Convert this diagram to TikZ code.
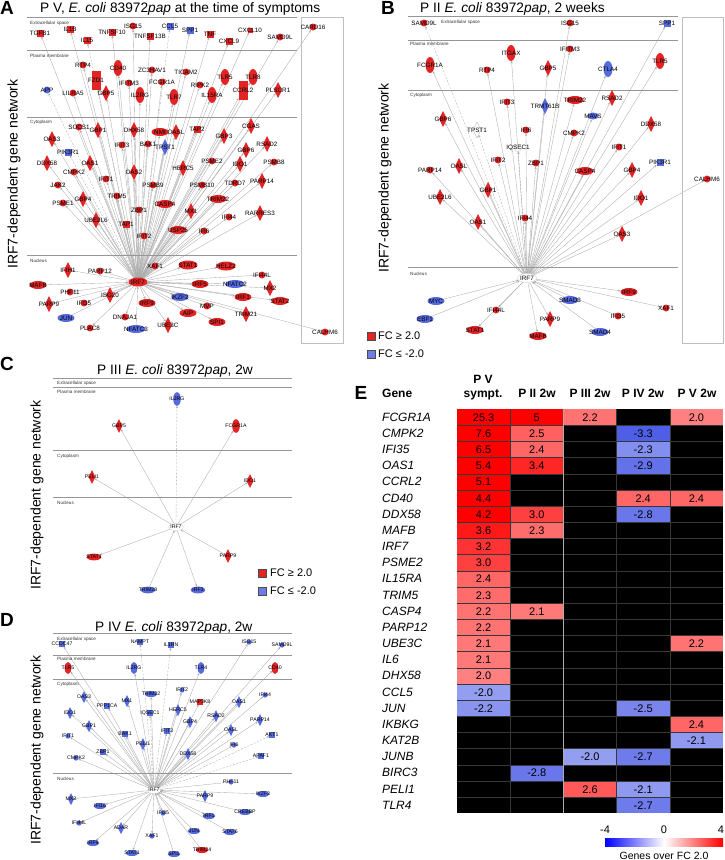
\documentclass[tikz,border=0pt]{standalone}
\usepackage{fontspec}
\setmainfont{Liberation Sans}
\usetikzlibrary{shapes.geometric,arrows.meta,backgrounds}
\definecolor{nred}{RGB}{226,36,36}
\definecolor{nblue}{RGB}{86,106,222}
\definecolor{lblue}{RGB}{110,125,230}
\definecolor{cline}{RGB}{150,150,150}
\definecolor{bxline}{RGB}{190,190,190}
\definecolor{eline}{RGB}{172,172,172}
\definecolor{hred}{RGB}{255,0,0}
\definecolor{hblue}{RGB}{40,60,225}
\definecolor{gridc}{RGB}{55,55,55}
\newcommand\ns{1}
\newcommand\GN[5]{\node[#2] (#1) at (#3,#4) {};\node[glab] (#1t) at (#1.center) {#5};}
\newcommand\GE[6][edg]{\GN{#2}{#3}{#4}{#5}{#6}\begin{scope}[on background layer]\draw[#1] (\hub) -- (#2);\end{scope}}
\def\hnone{x}
\newcommand\hcell[3]{%
  \pgfmathsetmacro\hx{457+#1*53.2}%
  \pgfmathsetmacro\hy{409+#2*16.17}%
  \edef\hv{#3}%
  \ifx\hv\hnone
    \fill[black] (\hx,\hy) rectangle ++(53.2,16.17);
  \else
    \pgfmathsetmacro\pc{min(100,abs(#3)*25)}%
    \ifdim #3pt<0pt \def\hc{hblue}\else\def\hc{hred}\fi
    \fill[\hc!\pc!white] (\hx,\hy) rectangle ++(53.2,16.17);
    \node[hnum] (v#1r#2) at (\hx+26.6,\hy+8.4) {#3};
  \fi}
\tikzset{
 base/.style={inner sep=0pt,outer sep=0pt},
 rcir/.style={base,circle,fill=nred,minimum size=\ns*7pt},
 bcir/.style={base,circle,fill=nblue,minimum size=\ns*7pt},
 wcir/.style={base,circle,fill=white,draw=gray!60,line width=0.3pt,minimum size=\ns*7pt},
 rsq/.style={base,rectangle,fill=nred,minimum size=\ns*7pt},
 bsq/.style={base,rectangle,fill=nblue,minimum size=\ns*7pt},
 rtal/.style={base,rectangle,fill=nred,minimum width=\ns*9pt,minimum height=\ns*19pt},
 rdia/.style={base,diamond,fill=nred,minimum width=\ns*8pt,minimum height=\ns*16pt},
 bdia/.style={base,diamond,fill=nblue,minimum width=\ns*8pt,minimum height=\ns*16pt},
 wdia/.style={base,diamond,fill=white,draw=gray!60,line width=0.3pt,minimum width=\ns*8pt,minimum height=\ns*16pt},
 rvel/.style={base,ellipse,fill=nred,minimum width=\ns*9pt,minimum height=\ns*16pt},
 bvel/.style={base,ellipse,fill=nblue,minimum width=\ns*9pt,minimum height=\ns*16pt},
 rhel/.style={base,ellipse,fill=nred,minimum width=\ns*17pt,minimum height=\ns*8pt},
 bhel/.style={base,ellipse,fill=nblue,minimum width=\ns*17pt,minimum height=\ns*8pt},
 whel/.style={base,ellipse,fill=white,draw=gray!40,line width=0.3pt,minimum width=\ns*17pt,minimum height=\ns*8pt},
 glab/.style={inner sep=0pt,font=\fontsize{6.3}{7}\selectfont},
 edg/.style={draw=eline,line width=0.35pt,-{Stealth[length=2.6pt,width=2.2pt]}},
 edgd/.style={edg,dash pattern=on 2pt off 1.5pt},
 edgr/.style={draw=eline,line width=0.35pt,{Stealth[length=2.6pt,width=2.2pt]}-},
 cmp/.style={draw=cline,line width=0.7pt},
 bx/.style={draw=bxline,line width=1pt},
 cmpl/.style={anchor=west,inner sep=0pt,font=\fontsize{4.6}{5}\selectfont,text=black!80},
 plet/.style={inner sep=0pt,font=\fontsize{19}{20}\selectfont\bfseries},
 ttl/.style={anchor=base west,inner sep=0pt,font=\fontsize{13.7}{15}\selectfont},
 vlab/.style={rotate=90,inner sep=0pt,font=\fontsize{14}{15}\selectfont},
 legt/.style={anchor=west,inner sep=0pt,font=\fontsize{11}{12}\selectfont},
 hnum/.style={inner sep=0pt,font=\fontsize{11}{12}\selectfont},
 hgene/.style={anchor=west,inner sep=0pt,font=\fontsize{12}{13}\selectfont\itshape},
 hhead/.style={anchor=base,inner sep=0pt,font=\fontsize{12}{13}\selectfont\bfseries},
}
\begin{document}
\begin{tikzpicture}[x=1pt,y=-1pt]
\useasboundingbox (0,0) rectangle (725,860);
% ================= Panel A =================
\node[plet] (LA) at (7,8) {A};
\node[ttl] (TA) at (40,12) {P V, \textit{E. coli} 83972\textit{pap} at the time of symptoms};
\node[vlab] (VA) at (14,174) {IRF7-dependent gene network};
\coordinate (a1l) at (27,17); \coordinate (a1r) at (297,17);
\coordinate (a2l) at (27,50); \coordinate (a2r) at (297,50);
\coordinate (a3l) at (27,117); \coordinate (a3r) at (297,117);
\coordinate (a4l) at (27,255); \coordinate (a4r) at (297,255);
\draw[cmp] (a1l) -- (a1r); \draw[cmp] (a2l) -- (a2r); \draw[cmp] (a3l) -- (a3r); \draw[cmp] (a4l) -- (a4r);
\node[cmpl] (aC1) at (30,23) {Extracellular space};
\node[cmpl] (aC2) at (30,56) {Plasma membrane};
\node[cmpl] (aC3) at (30,122) {Cytoplasm};
\node[cmpl] (aC4) at (30,261) {Nucleus};
\coordinate (abx1) at (301,17); \coordinate (abx2) at (343,343);
\draw[bx] (abx1) rectangle (abx2);
\begin{scope}
\def\hub{aIRF7}
\GN{aIRF7}{rhel,minimum width=19pt,minimum height=9pt}{138}{282}{IRF7}
\GE{aTGFB1}{rsq}{40}{33}{TGFB1}
\GE{aIL1B}{rsq}{70}{29}{IL1B}
\GE[edgd]{aIL15}{rsq}{87}{40}{IL15}
\GE{aTNFSF10}{rsq}{112}{32}{TNFSF10}
\GE{aISG15}{rcir}{133}{26}{ISG15}
\GE{aTNFSF13B}{rsq}{150}{36}{TNFSF13B}
\GE[edgd]{aCCL5}{bsq}{170}{26}{CCL5}
\GE{aSPP1}{bsq}{190}{30}{SPP1}
\GE{aTNF}{rsq}{210}{34}{TNF}
\GE{aCXCL9}{rsq}{229}{41}{CXCL9}
\GE{aCXCL10}{rsq,minimum size=5pt}{250}{30}{CXCL10}
\GE{aSAMD9L}{rcir}{280}{37}{SAMD9L}
\GE{aCARD16}{rcir}{313}{27}{CARD16}
\GE{aRTP4}{rcir}{83}{65}{RTP4}
\GE{aCD40}{rvel}{118}{68}{CD40}
\GE{aZC3HAV1}{rcir}{152}{70}{ZC3HAV1}
\GE{aTICAM2}{rcir}{186}{72}{TICAM2}
\GE{aFZD1}{rtal}{96}{80}{FZD1}
\GE{aIFITM3}{rcir}{129}{83}{IFITM3}
\GE{aFCGR1A}{rcir}{162}{82}{FCGR1A}
\GE{aRIPK2}{rcir}{200}{85}{RIPK2}
\GE{aTLR5}{rvel}{225}{77}{TLR5}
\GE{aTLR8}{rvel}{253}{77}{TLR8}
\GE[edgd]{aAPP}{bcir}{47}{90}{APP}
\GE{aLILRA5}{rcir}{73}{93}{LILRA5}
\GE{aGBP5}{rdia}{106}{93}{GBP5}
\GE{aIL2RG}{rvel}{140}{95}{IL2RG}
\GE{aTLR7}{rvel}{174}{97}{TLR7}
\GE{aIL15RA}{rvel}{212}{95}{IL15RA}
\GE{aCCRL2}{rtal}{243}{90}{CCRL2}
\GE{aPLSCR1}{rdia}{278}{90}{PLSCR1}
\GE{aSOCS1}{rcir}{79}{127}{SOCS1}
\GE{aGBP1}{rdia}{98}{130}{GBP1}
\GE{aDHX58}{rdia}{134}{130}{DHX58}
\GE{aNMI}{rhel}{160}{132}{NMI}
\GE{aOASL}{rdia}{176}{132}{OASL}
\GE{aTAP2}{rsq}{197}{129}{TAP2}
\GE{aGBP3}{rdia}{224}{136}{GBP3}
\GE{aCGAS}{rdia}{251}{126}{CGAS}
\GE{aOAS3}{rdia}{52}{139}{OAS3}
\GE{aIFIT3}{rcir}{122}{145}{IFIT3}
\GE{aBAK1}{rcir}{148}{144}{BAK1}
\GE{aTPST1}{bdia}{165}{147}{TPST1}
\GE{aRSAD2}{rdia}{267}{144}{RSAD2}
\GE{aGBP6}{rdia}{246}{150}{GBP6}
\GE[edgd]{aPIK3R1}{bsq}{68}{152}{PIK3R1}
\GE{aDDX58}{rdia}{47}{163}{DDX58}
\GE{aOAS1}{rdia}{90}{163}{OAS1}
\GE{aCMPK2}{rcir}{74}{172}{CMPK2}
\GE{aOAS2}{rdia}{134}{172}{OAS2}
\GE{aHERC5}{rdia}{183}{168}{HERC5}
\GE{aPSME2}{rcir}{212}{161}{PSME2}
\GE{aIDO1}{rdia}{240}{164}{IDO1}
\GE{aPSMB8}{rcir}{274}{162}{PSMB8}
\GE{aIFIT1}{rcir}{106}{179}{IFIT1}
\GE{aPSMB9}{rcir}{153}{185}{PSMB9}
\GE{aPSMB10}{rcir}{202}{185}{PSMB10}
\GE{aTDRD7}{rcir}{235}{183}{TDRD7}
\GE{aPARP14}{rdia}{262}{181}{PARP14}
\GE{aJAK2}{rcir}{58}{185}{JAK2}
\GE{aTRIM5}{rcir}{117}{196}{TRIM5}
\GE{aGBP4}{rdia}{83}{199}{GBP4}
\GE{aTRIM22}{rhel}{218}{199}{TRIM22}
\GE{aPSME1}{rcir}{63}{203}{PSME1}
\GE{aCASP4}{rhel}{165}{204}{CASP4}
\GE{aMX1}{rdia}{191}{211}{MX1}
\GE{aZBP1}{rcir}{139}{210}{ZBP1}
\GE{aUBE2L6}{rdia}{96}{220}{UBE2L6}
\GE{aTAP1}{rsq}{126}{224}{TAP1}
\GE{aIFI44}{rcir}{229}{217}{IFI44}
\GE{aRARRES3}{rdia}{260}{213}{RARRES3}
\GE{aUSP25}{rhel}{178}{230}{USP25}
\GE{aIFI6}{rcir}{204}{231}{IFI6}
\GE{aIFIT2}{rcir}{144}{236}{IFIT2}
\GE{aIFIH1}{rdia}{68}{270}{IFIH1}
\GE{aPARP12}{rcir}{100}{271}{PARP12}
\GE{aXAF1}{rcir}{155}{266}{XAF1}
\GE{aSTAT1}{rhel,minimum width=19pt,minimum height=9pt}{188}{265}{STAT1}
\GE{aHELZ2}{rhel,minimum width=19pt,minimum height=9pt}{226}{266}{HELZ2}
\GE{aIFI44L}{rcir}{262}{275}{IFI44L}
\GE[edgr]{aMAFB}{rhel}{38}{285}{MAFB}
\GE[edgr]{aIRF5}{rhel}{200}{284}{IRF5}
\GE[edgr]{aNFATC2}{bhel,minimum width=19pt}{235}{284}{NFATC2}
\GE{aMX2}{rdia}{270}{288}{MX2}
\GE{aPHF11}{rcir}{70}{292}{PHF11}
\GE{aISG20}{rdia}{110}{295}{ISG20}
\GE{aIKZF2}{bhel}{180}{297}{IKZF2}
\GE{aIRF1}{rhel}{243}{297}{IRF1}
\GE{aSTAT2}{rhel}{280}{301}{STAT2}
\GE{aPARP9}{rdia}{49}{304}{PARP9}
\GE{aIFI35}{rcir}{84}{303}{IFI35}
\GE{aIRF9}{rhel}{147}{303}{IRF9}
\GE{aMVP}{rcir}{207}{306}{MVP}
\GE{aAIP}{rhel}{188}{313}{AIP}
\GE[edgr]{aJUN}{bhel}{66}{318}{JUN}
\GE{aDNAJA1}{rcir}{125}{317}{DNAJA1}
\GE{aUBE3C}{rdia}{168}{325}{UBE3C}
\GE{aTRIM21}{rdia}{246}{314}{TRIM21}
\GE{aSPI1}{rhel}{217}{322}{SPI1}
\GE{aPLAC8}{rcir}{90}{328}{PLAC8}
\GE[edgr]{aNFATC3}{bhel,minimum width=19pt}{136}{329}{NFATC3}
\GE{aCALHM6}{rcir}{325}{332}{CALHM6}
\end{scope}
% ================= Panel B =================
\node[plet] (LB) at (388,8) {B};
\node[ttl] (TB) at (420,12) {P II \textit{E. coli} 83972\textit{pap}, 2 weeks};
\node[vlab] (VB) at (385,178) {IRF7-dependent gene network};
\coordinate (b1l) at (408,16); \coordinate (b1r) at (678,16);
\coordinate (b2l) at (408,40); \coordinate (b2r) at (678,40);
\coordinate (b3l) at (408,90); \coordinate (b3r) at (678,90);
\coordinate (b4l) at (408,267); \coordinate (b4r) at (678,267);
\draw[cmp] (b1l) -- (b1r); \draw[cmp] (b2l) -- (b2r); \draw[cmp] (b3l) -- (b3r); \draw[cmp] (b4l) -- (b4r);
\node[cmpl] (bC1) at (441,22) {Extracellular space};
\node[cmpl] (bC2) at (410,44) {Plasma membrane};
\node[cmpl] (bC3) at (410,95) {Cytoplasm};
\node[cmpl] (bC4) at (410,274) {Nucleus};
\coordinate (bbx1) at (682,17); \coordinate (bbx2) at (723,343);
\draw[bx] (bbx1) rectangle (bbx2);
\begin{scope}
\def\hub{bIRF7}
\GN{bIRF7}{whel,minimum width=19pt,minimum height=9pt}{527}{278}{IRF7}
\GE[edgd]{bSAMD9L}{rcir}{424}{23}{SAMD9L}
\GE{bISG15}{rcir}{570}{23}{ISG15}
\GE{bSPP1}{bsq}{667}{23}{SPP1}
\GE{bFCGR1A}{rvel}{430}{65}{FCGR1A}
\GE{bITGAX}{rvel}{511}{53}{ITGAX}
\GE{bIFITM3}{rcir}{570}{49}{IFITM3}
\GE{bRTP4}{rcir}{487}{70}{RTP4}
\GE{bGBP5}{rdia}{548}{68}{GBP5}
\GE{bCTLA4}{bvel}{608}{69}{CTLA4}
\GE{bTLR5}{rvel}{660}{61}{TLR5}
\GE{bIFIT3}{rcir}{507}{102}{IFIT3}
\GE{bTRMT61B}{bdia}{545}{106}{TRMT61B}
\GE{bTRIM22}{rhel}{575}{100}{TRIM22}
\GE{bRSAD2}{rdia}{612}{98}{RSAD2}
\GE{bMAVS}{bhel,minimum width=11pt,minimum height=7pt}{593}{116}{MAVS}
\GE{bGBP6}{rdia}{443}{119}{GBP6}
\GE[edgd]{bTPST1}{wdia}{477}{130}{TPST1}
\GE{bIFI6}{rcir}{526}{130}{IFI6}
\GE{bCMPK2}{rcir}{574}{133}{CMPK2}
\GE{bDDX58}{rdia}{651}{124}{DDX58}
\GE[edgd]{bIQSEC1}{wcir}{518}{148}{IQSEC1}
\GE{bIFIT1}{rcir}{619}{147}{IFIT1}
\GE{bIFIT2}{rcir}{498}{160}{IFIT2}
\GE{bZBP1}{rcir}{536}{163}{ZBP1}
\GE{bOASL}{rdia}{459}{166}{OASL}
\GE{bPARP14}{rcir}{430}{170}{PARP14}
\GE{bCASP4}{rhel}{585}{171}{CASP4}
\GE{bGBP4}{rdia}{632}{170}{GBP4}
\GE{bPIK3R1}{bsq}{660}{162}{PIK3R1}
\GE{bGBP1}{rdia}{488}{190}{GBP1}
\GE{bUBE2L6}{rdia}{440}{197}{UBE2L6}
\GE{bIDO1}{rdia}{641}{198}{IDO1}
\GE{bIFI44}{rcir}{525}{218}{IFI44}
\GE{bOAS1}{rdia}{478}{222}{OAS1}
\GE{bOAS3}{rdia}{622}{234}{OAS3}
\GE{bCALHM6}{rcir}{707}{179}{CALHM6}
\GE{bIRF9}{rhel}{629}{292}{IRF9}
\GE[edgr]{bMYC}{bhel}{436}{301}{MYC}
\GE[edgr]{bSMAD3}{bhel}{570}{300}{SMAD3}
\GE{bXAF1}{rcir}{666}{308}{XAF1}
\GE{bIFI44L}{rcir}{496}{310}{IFI44L}
\GE[edgr]{bEBF1}{bhel}{425}{319}{EBF1}
\GE{bPARP9}{rdia}{550}{319}{PARP9}
\GE{bIFI35}{rcir}{618}{316}{IFI35}
\GE{bSTAT1}{rhel}{475}{330}{STAT1}
\GE[edgr]{bSMAD4}{bhel}{600}{332}{SMAD4}
\GE{bMAFB}{rhel}{538}{336}{MAFB}
\end{scope}
\node[draw=black!70,line width=0.4pt,fill=nred,minimum size=8pt,inner sep=0pt] (lgBr) at (371,336) {};
\node[legt] (lgBrt) at (378,336) {FC ≥ 2.0};
\node[draw=black!70,line width=0.4pt,fill=lblue,minimum size=8pt,inner sep=0pt] (lgBb) at (371,354) {};
\node[legt] (lgBbt) at (378,354) {FC ≤ -2.0};
% ================= Panel C =================
\node[plet] (LC) at (7,364) {C};
\node[ttl] (TC) at (97,374) {P III \textit{E. coli} 83972\textit{pap}, 2w};
\node[vlab] (VC) at (37,495) {IRF7-dependent gene network};
\coordinate (c1l) at (53,378); \coordinate (c1r) at (292,378);
\coordinate (c2l) at (53,387); \coordinate (c2r) at (292,387);
\coordinate (c3l) at (53,450); \coordinate (c3r) at (292,450);
\coordinate (c4l) at (53,497); \coordinate (c4r) at (292,497);
\draw[cmp] (c1l) -- (c1r); \draw[cmp] (c2l) -- (c2r); \draw[cmp] (c3l) -- (c3r); \draw[cmp] (c4l) -- (c4r);
\node[cmpl] (cC1) at (57,383.5) {Extracellular space};
\node[cmpl] (cC2) at (57,391.5) {Plasma membrane};
\node[cmpl] (cC3) at (57,456) {Cytoplasm};
\node[cmpl] (cC4) at (57,503) {Nucleus};
\begin{scope}[glab/.style={inner sep=0pt,font=\fontsize{5.2}{6}\selectfont}]
\renewcommand\ns{0.85}
\def\hub{cIRF7}
\GN{cIRF7}{whel}{176}{527}{IRF7}
\GE[edgd]{cIL2RG}{bvel}{177}{399}{IL2RG}
\GE{cGBP5}{rdia}{119}{426}{GBP5}
\GE{cFCGR1A}{rvel}{236}{426}{FCGR1A}
\GE{cPELI1}{rdia}{92}{477}{PELI1}
\GE{cIDO1}{rdia}{250}{481}{IDO1}
\GE{cSTAT1}{rhel}{94}{557}{STAT1}
\GE[edgr]{cPARP9}{rdia}{228}{556}{PARP9}
\GE[edgr]{cTRIM28}{bhel}{148}{590}{TRIM28}
\GE{cIRF3}{bhel}{198}{590}{IRF3}
\end{scope}
\node[draw=black!70,line width=0.4pt,fill=nred,minimum size=8pt,inner sep=0pt] (lgCr) at (262,573) {};
\node[legt] (lgCrt) at (270,573) {FC ≥ 2.0};
\node[draw=black!70,line width=0.4pt,fill=lblue,minimum size=8pt,inner sep=0pt] (lgCb) at (262,591) {};
\node[legt] (lgCbt) at (270,591) {FC ≤ -2.0};
% ================= Panel D =================
\node[plet] (LD) at (7,620) {D};
\node[ttl] (TD) at (95,631) {P IV \textit{E. coli} 83972\textit{pap}, 2w};
\node[vlab] (VD) at (37,750) {IRF7-dependent gene network};
\coordinate (d1l) at (53,633); \coordinate (d1r) at (292,633);
\coordinate (d2l) at (53,655); \coordinate (d2r) at (292,655);
\coordinate (d3l) at (53,679); \coordinate (d3r) at (292,679);
\coordinate (d4l) at (53,773); \coordinate (d4r) at (292,773);
\draw[cmp] (d1l) -- (d1r); \draw[cmp] (d2l) -- (d2r); \draw[cmp] (d3l) -- (d3r); \draw[cmp] (d4l) -- (d4r);
\node[cmpl] (dC1) at (57,639) {Extracellular space};
\node[cmpl] (dC2) at (57,659) {Plasma membrane};
\node[cmpl] (dC3) at (57,684) {Cytoplasm};
\node[cmpl] (dC4) at (57,779) {Nucleus};
\begin{scope}[glab/.style={inner sep=0pt,font=\fontsize{5.2}{6}\selectfont}]
\renewcommand\ns{0.75}
\def\hub{dIRF7}
\GN{dIRF7}{whel,draw=none}{154}{790}{IRF7}
\GE{dCCDC47}{bsq}{62}{644}{CCDC47}
\GE[edgd]{dNAMPT}{bsq}{140}{642}{NAMPT}
\GE[edgd]{dIL1RN}{bsq}{171}{645}{IL1RN}
\GE{dISG15}{bcir}{249}{642}{ISG15}
\GE{dSAMD9L}{bcir}{282}{645}{SAMD9L}
\GE{dTLR5}{rvel}{68}{668}{TLR5}
\GE{dIL2RG}{bvel}{134}{668}{IL2RG}
\GE{dTLR4}{bvel}{201}{668}{TLR4}
\GE{dCD40}{rvel}{275}{668}{CD40}
\GE{dTRIM22}{bhel}{151}{694}{TRIM22}
\GE{dIFIT2}{bcir}{182}{690}{IFIT2}
\GE{dIFI44}{bcir}{265}{695}{IFI44}
\GE{dOAS3}{bdia}{84}{697}{OAS3}
\GE{dMX1}{bdia}{127}{701}{MX1}
\GE{dPPP1CA}{bsq}{107}{706}{PPP1CA}
\GE{dMAP3K8}{rsq}{200}{702}{MAP3K8}
\GE{dOAS1}{bdia}{239}{702}{OAS1}
\GE{dIDO1}{bdia}{70}{713}{IDO1}
\GE[edgd]{dIQSEC1}{bsq}{150}{713}{IQSEC1}
\GE{dHERC5}{bdia}{178}{710}{HERC5}
\GE{dRSAD2}{bdia}{216}{716}{RSAD2}
\GE{dGBP4}{bdia}{190}{722}{GBP4}
\GE{dPARP14}{bdia}{260}{720}{PARP14}
\GE{dGBP1}{bdia}{89}{726}{GBP1}
\GE{dOASL}{bdia}{231}{730}{OASL}
\GE{dIFIT1}{bcir}{68}{736}{IFIT1}
\GE{dBAK1}{bsq}{125}{734}{BAK1}
\GE{dIFIT3}{bsq}{167}{731}{IFIT3}
\GE[edgd]{dAKT1}{bsq}{272}{735}{AKT1}
\GE{dPELI1}{bdia}{143}{744}{PELI1}
\GE{dIFI6}{bcir}{234}{745}{IFI6}
\GE{dZBP1}{bsq}{103}{752}{ZBP1}
\GE{dDDX58}{bdia}{188}{754}{DDX58}
\GE{dCMPK2}{bcir}{76}{758}{CMPK2}
\GE[edgd]{dAPAF1}{bsq}{261}{756}{APAF1}
\GE{dPHF11}{bcir}{231}{782}{PHF11}
\GE[edgr]{dIKZF3}{bhel}{263}{794}{IKZF3}
\GE{dMX2}{bdia}{71}{799}{MX2}
\GE[edgr]{dPARP9}{bdia}{205}{796}{PARP9}
\GE{dIFI16}{bhel}{100}{806}{IFI16}
\GE[edgr]{dCREBBP}{bhel}{245}{812}{CREBBP}
\GE{dIFI35}{bcir}{163}{813}{IFI35}
\GE{dIRF1}{bhel}{209}{816}{IRF1}
\GE{dIFI44L}{bcir}{79}{823}{IFI44L}
\GE{dADAR}{bdia}{121}{828}{ADAR}
\GE[edgr]{dJUN}{bhel}{194}{831}{JUN}
\GE[edgr]{dSTAT6}{bhel}{230}{832}{STAT6}
\GE{dXAF1}{bcir}{152}{836}{XAF1}
\GE{dIRF9}{bhel}{93}{843}{IRF9}
\GE[edgr]{dTRIM24}{rhel}{202}{850}{TRIM24}
\GE{dSTAT1}{bhel}{132}{853}{STAT1}
\GE[edgr]{dSPI1}{bhel}{174}{854}{SPI1}
\end{scope}
% ================= Panel E =================
\node[plet] (LE) at (361,393) {E};
\node[hhead,anchor=base west] (hG) at (382,397) {Gene};
\node[hhead] (h1a) at (483,383) {P V};
\node[hhead] (h1b) at (483,397) {sympt.};
\node[hhead] (h2) at (537,397) {P II 2w};
\node[hhead] (h3) at (590,397) {P III 2w};
\node[hhead] (h4) at (643,397) {P IV 2w};
\node[hhead] (h5) at (697,397) {P V 2w};
\foreach \g/\va/\vb/\vc/\vd/\ve [count=\r from 0] in {
FCGR1A/25.3/5/2.2/x/2.0, CMPK2/7.6/2.5/x/-3.3/x, IFI35/6.5/2.4/x/-2.3/x,
OAS1/5.4/3.4/x/-2.9/x, CCRL2/5.1/x/x/x/x, CD40/4.4/x/x/2.4/2.4,
DDX58/4.2/3.0/x/-2.8/x, MAFB/3.6/2.3/x/x/x, IRF7/3.2/x/x/x/x,
PSME2/3.0/x/x/x/x, IL15RA/2.4/x/x/x/x, TRIM5/2.3/x/x/x/x,
CASP4/2.2/2.1/x/x/x, PARP12/2.2/x/x/x/x, UBE3C/2.1/x/x/x/2.2,
IL6/2.1/x/x/x/x, DHX58/2.0/x/x/x/x, CCL5/-2.0/x/x/x/x,
JUN/-2.2/x/x/-2.5/x, IKBKG/x/x/x/x/2.4, KAT2B/x/x/x/x/-2.1,
JUNB/x/x/-2.0/-2.7/x, BIRC3/x/-2.8/x/x/x, PELI1/x/x/2.6/-2.1/x,
TLR4/x/x/x/-2.7/x}{
  \node[hgene] (hg\r) at (382,417.1+\r*16.17) {\g};
  \hcell{0}{\r}{\va}
  \hcell{1}{\r}{\vb}
  \hcell{2}{\r}{\vc}
  \hcell{3}{\r}{\vd}
  \hcell{4}{\r}{\ve}
}
\foreach \k in {1,...,24}{
  \draw[gridc,line width=0.3pt] (457,409+\k*16.17) -- (723,409+\k*16.17);
}
\foreach \k in {1,3,4}{
  \draw[gridc,line width=0.3pt] (457+\k*53.2,409) -- (457+\k*53.2,813.25);
}
\coordinate (hvl1) at (563.4,409); \coordinate (hvl2) at (563.4,813.25);
\draw[gray!65,line width=0.9pt] (hvl1) -- (hvl2);
% colour bar
\shade[left color=blue,right color=white] (605,838) rectangle (664,846);
\shade[left color=white,right color=red] (664,838) rectangle (723,846);
\node[hnum,anchor=base] (cbm) at (605,833) {-4};
\node[hnum,anchor=base] (cb0) at (664,833) {0};
\node[hnum,anchor=base] (cbp) at (721,833) {4};
\node[inner sep=0pt,anchor=base,font=\fontsize{10.5}{11}\selectfont] (cbt) at (664,859) {Genes over FC 2.0};
\end{tikzpicture}
\end{document}
